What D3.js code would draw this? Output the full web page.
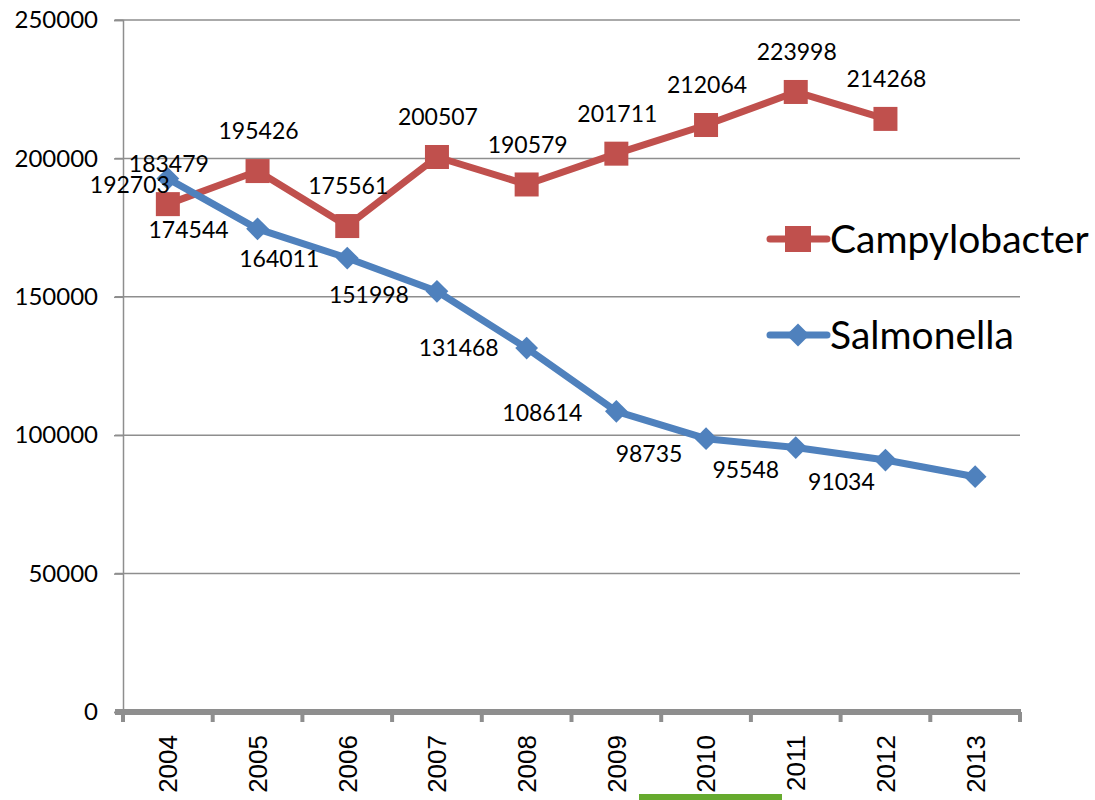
<!DOCTYPE html>
<html>
<head>
<meta charset="utf-8">
<script src="https://cdn.jsdelivr.net/npm/d3@7"></script>
<style>
  html, body { margin: 0; padding: 0; background: #fff; }
  svg { display: block; }
</style>
</head>
<body>
<svg id="chart" width="1095" height="800"></svg>
<script>
// ---- data ----
const years = ["2004","2005","2006","2007","2008","2009","2010","2011","2012","2013"];
const campylobacter = [183479, 195426, 175561, 200507, 190579, 201711, 212064, 223998, 214268, null];
const salmonella = [192703, 174544, 164011, 151998, 131468, 108614, 98735, 95548, 91034, 85000];
const salmonellaLabeled = [true, true, true, true, true, true, true, true, true, false];
const yTicks = [0, 50000, 100000, 150000, 200000, 250000];
const seriesNames = ["Campylobacter", "Salmonella"];

// ---- layout (not data) ----
const salmonellaLabelOffsets = [[-38,6],[-69,1],[-68,1],[-68,3],[-68,0],[-74,1],[-57,15],[-50,22],[-44,22],[0,0]];
const red = "#C0504D", blue = "#4F81BD", gridColor = "#8E8E8E";
const plotLeft = 123, plotRight = 1020, plotTop = 20, plotBottom = 712;

const svg = d3.select("#chart");
const x = d3.scaleBand().domain(years).range([plotLeft, plotRight]);
const y = d3.scaleLinear().domain([0, 250000]).range([plotBottom, plotTop]);
const cx = d => x(d) + x.bandwidth() / 2;

// gridlines
svg.append("g").selectAll("line").data(yTicks.filter(t => t > 0)).join("line")
  .attr("x1", 115).attr("x2", plotRight).attr("y1", d => y(d)).attr("y2", d => y(d))
  .attr("stroke", gridColor).attr("stroke-width", 1.5);

// y axis
const yAxis = svg.append("g").attr("transform", `translate(${plotLeft},0)`)
  .call(d3.axisLeft(y).tickValues(yTicks).tickSize(9).tickPadding(16).tickFormat(d3.format("d")));
yAxis.select(".domain").attr("stroke", gridColor).attr("stroke-width", 1.5);
yAxis.selectAll(".tick line").attr("stroke", gridColor).attr("stroke-width", 1.5);
yAxis.selectAll(".tick text").attr("font-family", "Lato, sans-serif").attr("font-size", 24).attr("fill", "#000");

// x axis
svg.append("line").attr("x1", 115).attr("x2", plotRight + 1).attr("y1", plotBottom).attr("y2", plotBottom)
  .attr("stroke", gridColor).attr("stroke-width", 6);
const edges = years.map(d => x(d)).concat([plotRight]);
svg.append("g").selectAll("line").data(edges).join("line")
  .attr("x1", d => d).attr("x2", d => d).attr("y1", plotBottom).attr("y2", 722)
  .attr("stroke", gridColor).attr("stroke-width", 4);
svg.append("g").selectAll("text").data(years).join("text")
  .attr("transform", d => `translate(${cx(d)},735) rotate(-90)`)
  .attr("text-anchor", "end").attr("dy", "0.36em")
  .attr("font-family", "'Liberation Sans', Arial, sans-serif").attr("font-size", 26)
  .attr("fill", "#000").text(d => d);

// lines
const line = d3.line().defined(d => d.v != null).x(d => cx(d.year)).y(d => y(d.v));
const campData = years.map((yr, i) => ({year: yr, v: campylobacter[i]}));
const salmData = years.map((yr, i) => ({year: yr, v: salmonella[i], lab: salmonellaLabeled[i], off: salmonellaLabelOffsets[i]}));

svg.append("path").datum(campData).attr("d", line).attr("fill", "none")
  .attr("stroke", red).attr("stroke-width", 7).attr("stroke-linejoin", "round").attr("stroke-linecap", "round");
svg.append("g").selectAll("rect").data(campData.filter(d => d.v != null)).join("rect")
  .attr("x", d => cx(d.year) - 12).attr("y", d => y(d.v) - 12).attr("width", 24).attr("height", 24)
  .attr("fill", red);

svg.append("path").datum(salmData).attr("d", line).attr("fill", "none")
  .attr("stroke", blue).attr("stroke-width", 7).attr("stroke-linejoin", "round").attr("stroke-linecap", "round");
const diamond = d3.symbol().type(d3.symbolDiamond2).size(330);
svg.append("g").selectAll("path").data(salmData).join("path")
  .attr("transform", d => `translate(${cx(d.year)},${y(d.v)})`)
  .attr("d", diamond).attr("fill", blue);

// data labels
svg.append("g").selectAll("text").data(campData.filter(d => d.v != null)).join("text")
  .attr("x", d => cx(d.year) + 1).attr("y", d => y(d.v) - 40).attr("dy", "0.36em")
  .attr("text-anchor", "middle").attr("font-family", "Lato, sans-serif").attr("font-size", 23)
  .attr("fill", "#000").text(d => d.v);
svg.append("g").selectAll("text").data(salmData.filter(d => d.lab)).join("text")
  .attr("x", d => cx(d.year) + d.off[0]).attr("y", d => y(d.v) + d.off[1]).attr("dy", "0.36em")
  .attr("text-anchor", "middle").attr("font-family", "Lato, sans-serif").attr("font-size", 23)
  .attr("fill", "#000").text(d => d.v);

// legend
const legend = svg.append("g");
const legendRows = [
  {name: seriesNames[0], color: red, yy: 239, shape: "square"},
  {name: seriesNames[1], color: blue, yy: 335, shape: "diamond"}
];
legendRows.forEach(r => {
  legend.append("line").attr("x1", 770).attr("x2", 827).attr("y1", r.yy).attr("y2", r.yy)
    .attr("stroke", r.color).attr("stroke-width", 7).attr("stroke-linecap", "round");
  if (r.shape === "square") {
    legend.append("rect").attr("x", 785).attr("y", r.yy - 13).attr("width", 26).attr("height", 26).attr("fill", r.color);
  } else {
    legend.append("path").attr("transform", `translate(798,${r.yy})`)
      .attr("d", d3.symbol().type(d3.symbolDiamond2).size(340)()).attr("fill", r.color);
  }
  legend.append("text").attr("x", 830).attr("y", r.yy).attr("dy", "0.36em")
    .attr("font-family", "Lato, sans-serif").attr("font-size", 39).attr("fill", "#000").text(r.name);
});

// green bar artifact at bottom
svg.append("rect").attr("x", 639).attr("y", 794).attr("width", 143).attr("height", 6).attr("fill", "#66AA2E");
</script>
</body>
</html>
